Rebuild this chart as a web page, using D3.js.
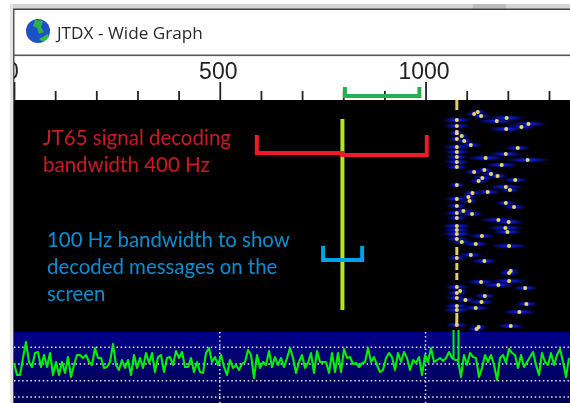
<!DOCTYPE html>
<html>
<head>
<meta charset="utf-8">
<title>JTDX - Wide Graph</title>
<script src="https://cdn.jsdelivr.net/npm/d3@7"></script>
<style>
  html, body { margin: 0; padding: 0; background: #fff; overflow: hidden; }
  svg { display: block; filter: blur(0.35px); }
</style>
</head>
<body>
<svg id="chart"></svg>
<script>
// [A] Datos ------------------------------------------------------------------
const titleText = "JTDX - Wide Graph";
const axisLabels = [0, 500, 1000];
const tickHz = d3.range(0, 1400, 100);
const gridHz = [500, 1000];
const gridLevels = [55.7, 39, 22.3, 6];

// Senales decodificadas: frecuencia (Hz), fila del waterfall, ancho del halo (Hz)
const spotHz = [1118,1127,1135,1076,1173,1197,1076,1250,1233,1196,1076,1076,1088,1094,1110,1076,1224,1076,1195,1076,1146,1248,1076,1185,1076,1118,1143,1159,1175,1138,1129,1218,1076,1195,1205,1151,1114,1104,1107,1076,1195,1215,1076,1076,1092,1113,1076,1177,1202,1076,1194,1076,1199,1076,1137,1076,1088,1122,1203,1110,1076,1143,1207,1203,1203,1135,1177,1076,1242,1084,1076,1144,1076,1097,1136,1076,1122,1245,1076,1228,1207,1129,1124,1076];
const spotRow = [14,12,16,20,21,18,26,24,27,29,33,39,36,41,45,47,48,52,54,57,58,60,62,65,67,72,70,74,76,78,81,80,85,87,90,92,93,97,101,99,103,107,106,113,111,114,118,120,122,126,128,130,132,134,136,139,142,144,146,155,158,161,171,173,181,182,185,187,188,191,193,196,198,200,202,206,208,204,210,212,226,227,229,225];
const spotSpread = [22,22,26,40,50,50,36,50,40,46,22,24,18,24,30,36,34,34,44,30,50,60,34,44,30,26,22,24,26,28,26,34,22,46,26,34,26,20,20,34,28,32,28,34,26,30,28,48,40,40,50,36,40,40,34,30,30,36,50,30,26,36,24,28,50,40,44,32,34,20,28,28,30,30,34,34,36,30,36,46,36,24,24,30];

// Portadora con tramos verticales (filas)
const carrierHz = 1076;
const carrierStart = [0, 30, 147, 163, 173, 213];
const carrierEnd = [10, 35, 155, 170, 180, 224];

// Espectro: un valor cada binHz desde 0 Hz
const binHz = 7.29;
const spectrumLevels = [40,28,28,45,61,41,36,50,51,36,48,36,50,28,41,28,41,30,46,26,38,48,48,45,48,41,38,55,45,45,35,36,41,59,38,33,43,35,43,28,48,35,45,35,50,40,50,31,46,48,31,45,46,38,52,45,51,36,36,
  45,31,41,31,30,50,55,41,46,38,48,36,28,43,35,38,33,39,41,53,48,25,48,35,41,38,52,36,46,38,45,36,45,55,45,30,41,48,35,40,50,30,52,41,41,41,30,50,31,50,31,54,45,46,39,40,36,40,41,55,41,46,38,31,
  33,45,50,46,33,50,41,51,45,33,43,40,46,28,48,41,55,41,43,45,42,45,51,45,43,43,26,48,38,50,46,45,26,35,48,41,48,38,23,45,48,40,54,50,48,35,48,36,41,46,51,38,28,50,41,38,50,38,48,54,41,26,45];
const toneHz = [1068, 1080];
const toneTop = 73;
const toneBase = 43;

// Anotaciones
const redBracketHz = [590, 1003];
const redBracketLeftRows = [35, 53];
const redBracketRightRows = [35, 55];
const blueBracketHz = [751, 846];
const blueBracketRows = [146, 160];
const greenBracketHz = [804, 985];
const limeHz = 798;
const limeRows = [19, 210];
const redLines = ["JT65 signal decoding", "bandwidth 400 Hz"];
const blueLines = ["100 Hz bandwidth to show", "decoded messages on the", "screen"];

// [B] Configuracion ----------------------------------------------------------
const width = 570;
const height = 403;

const x = d3.scaleLinear().domain([0, 1351]).range([14, 570]);
const yRow = d3.scaleLinear().domain([0, 232]).range([100, 332]);
const yLevel = d3.scaleLinear().domain([0, 71]).range([403, 332]);

const svg = d3.select("#chart").attr("width", width).attr("height", height);
const defs = svg.append("defs");

defs.append("clipPath").attr("id", "plotClip")
  .append("rect").attr("x", 14).attr("y", 56).attr("width", width - 14).attr("height", height - 56);

const halo = defs.append("radialGradient").attr("id", "halo");
halo.append("stop").attr("offset", "0%").attr("stop-color", "#0a28f0");
halo.append("stop").attr("offset", "35%").attr("stop-color", "#0816b0");
halo.append("stop").attr("offset", "70%").attr("stop-color", "#040a60").attr("stop-opacity", 0.8);
halo.append("stop").attr("offset", "100%").attr("stop-color", "#000020").attr("stop-opacity", 0);

const specFill = defs.append("linearGradient").attr("id", "specFill")
  .attr("x1", 0).attr("y1", 0).attr("x2", 0).attr("y2", 1);
specFill.append("stop").attr("offset", "0%").attr("stop-color", "#000088");
specFill.append("stop").attr("offset", "100%").attr("stop-color", "#000050");

defs.append("filter").attr("id", "soft")
  .append("feGaussianBlur").attr("stdDeviation", 0.5);

// [C] Marco de la ventana ----------------------------------------------------
svg.append("rect").attr("x", 10).attr("y", 4).attr("width", width - 10).attr("height", 5).attr("fill", "#d4d4d4");
svg.append("rect").attr("x", 10).attr("y", 4).attr("width", 3).attr("height", height - 4).attr("fill", "#e4e4e4");
svg.append("rect").attr("x", 473).attr("y", 4).attr("width", 33).attr("height", 5).attr("fill", "#bcbcbc");
svg.append("rect").attr("x", 13).attr("y", 8.5).attr("width", width - 13).attr("height", 1.5).attr("fill", "#444");
svg.append("rect").attr("x", 13).attr("y", 9).attr("width", 1.5).attr("height", height - 9).attr("fill", "#555");
svg.append("rect").attr("x", 14).attr("y", 54.5).attr("width", width - 14).attr("height", 1.6).attr("fill", "#555");

// Icono
const icon = svg.append("g").attr("transform", "translate(38,31)");
icon.append("circle").attr("r", 12).attr("fill", "#1e50c8");
icon.append("path").attr("d", "M-3,-11 L5,-10 L3,-4 L6,1 L1,3 L-1,-3 L-5,-5 Z").attr("fill", "#2fb04a");
icon.append("path").attr("d", "M1,8 L10,3 L11,6 L5,11 Z").attr("fill", "#30c040");

svg.append("text")
  .attr("x", 57).attr("y", 38.5)
  .attr("font-family", "'Open Sans'")
  .attr("font-size", 17.2)
  .attr("fill", "#2a2a2a")
  .text(titleText);

// [D] Regla de frecuencia ----------------------------------------------------
const axisG = svg.append("g")
  .attr("transform", "translate(0,100)")
  .attr("clip-path", "url(#axisClip)")
  .call(d3.axisTop(x)
    .tickValues(tickHz)
    .tickSize(9)
    .tickPadding(12)
    .tickFormat(d => axisLabels.includes(d) ? d : ""));

defs.append("clipPath").attr("id", "axisClip")
  .append("rect").attr("x", 14).attr("y", -45).attr("width", width - 14).attr("height", 45);

axisG.select(".domain").remove();
axisG.selectAll(".tick line")
  .attr("stroke", "#222")
  .attr("stroke-width", 1.8)
  .attr("y2", d => d % 500 === 0 ? -18 : -9);
axisG.selectAll(".tick text")
  .attr("font-family", "'Liberation Sans'")
  .attr("font-size", 23)
  .attr("fill", "#222")
  .attr("x", -2)
  .attr("y", -21);

// [E] Waterfall --------------------------------------------------------------
svg.append("rect").attr("x", 14).attr("y", yRow(0)).attr("width", width - 14).attr("height", yRow(232) - yRow(0)).attr("fill", "#000");

const spotIdx = d3.range(spotHz.length);
const waterfall = svg.append("g").attr("clip-path", "url(#plotClip)");

waterfall.selectAll("ellipse.halo")
  .data(spotIdx)
  .join("ellipse")
  .attr("class", "halo")
  .attr("cx", i => x(spotHz[i]))
  .attr("cy", i => yRow(spotRow[i]))
  .attr("rx", i => x(spotSpread[i]) - x(0))
  .attr("ry", 3.2)
  .attr("fill", "url(#halo)");

const hot = waterfall.append("g").attr("filter", "url(#soft)");

hot.selectAll("rect.carrier")
  .data(carrierStart)
  .join("rect")
  .attr("class", "carrier")
  .attr("x", x(carrierHz) - 1.5)
  .attr("width", 3)
  .attr("y", d => yRow(d))
  .attr("height", (d, i) => yRow(carrierEnd[i]) - yRow(d))
  .attr("fill", "#dccd6a");

hot.selectAll("circle.spot")
  .data(spotIdx)
  .join("circle")
  .attr("class", "spot")
  .attr("cx", i => x(spotHz[i]))
  .attr("cy", i => yRow(spotRow[i]))
  .attr("r", 2)
  .attr("fill", "#ecd95a");

// [F] Espectro ---------------------------------------------------------------
svg.append("rect").attr("x", 14).attr("y", yLevel(71)).attr("width", width - 14).attr("height", 71).attr("fill", "url(#specFill)");

const gridG = svg.append("g")
  .attr("stroke", "#e4e4f0")
  .attr("stroke-width", 1.5)
  .attr("stroke-dasharray", "1.5 2.6");

gridG.selectAll("line.h")
  .data(gridLevels)
  .join("line")
  .attr("class", "h")
  .attr("x1", 14).attr("x2", width)
  .attr("y1", d => yLevel(d)).attr("y2", d => yLevel(d));

gridG.selectAll("line.v")
  .data(gridHz)
  .join("line")
  .attr("class", "v")
  .attr("x1", d => x(d)).attr("x2", d => x(d))
  .attr("y1", yLevel(71)).attr("y2", height);

const spectrumLine = d3.line()
  .x((d, i) => x(i * binHz))
  .y(d => yLevel(d));

svg.append("path")
  .datum(spectrumLevels)
  .attr("d", spectrumLine)
  .attr("fill", "none")
  .attr("stroke", "#00f000")
  .attr("stroke-width", 2.1)
  .attr("stroke-linejoin", "round");

svg.selectAll("line.tone")
  .data(toneHz)
  .join("line")
  .attr("class", "tone")
  .attr("x1", d => x(d)).attr("x2", d => x(d))
  .attr("y1", yLevel(toneTop)).attr("y2", yLevel(toneBase))
  .attr("stroke", "#00f000")
  .attr("stroke-width", 2);

// [G] Anotaciones ------------------------------------------------------------
function bracket(points, color) {
  svg.append("path")
    .attr("d", d3.line()(points))
    .attr("fill", "none")
    .attr("stroke", color)
    .attr("stroke-width", 4);
}

svg.append("line")
  .attr("x1", x(limeHz)).attr("x2", x(limeHz))
  .attr("y1", yRow(limeRows[0])).attr("y2", yRow(limeRows[1]))
  .attr("stroke", "#b5e61d")
  .attr("stroke-width", 4);

bracket([
  [x(redBracketHz[0]), yRow(redBracketLeftRows[0])],
  [x(redBracketHz[0]), yRow(redBracketLeftRows[1])],
  [x(limeHz), yRow(redBracketLeftRows[1])],
  [x(limeHz), yRow(redBracketRightRows[1])],
  [x(redBracketHz[1]), yRow(redBracketRightRows[1])],
  [x(redBracketHz[1]), yRow(redBracketRightRows[0])]
], "#ed1c24");
bracket([
  [x(blueBracketHz[0]), yRow(blueBracketRows[0])],
  [x(blueBracketHz[0]), yRow(blueBracketRows[1])],
  [x(blueBracketHz[1]), yRow(blueBracketRows[1])],
  [x(blueBracketHz[1]), yRow(blueBracketRows[0])]
], "#00a2e8");
bracket([
  [x(greenBracketHz[0]), 87],
  [x(greenBracketHz[0]), 96],
  [x(greenBracketHz[1]), 96],
  [x(greenBracketHz[1]), 87]
], "#22b14c");

svg.selectAll("text.red")
  .data(redLines)
  .join("text")
  .attr("class", "red")
  .attr("x", 43)
  .attr("y", (d, i) => 145 + i * 27)
  .attr("font-family", "Lato")
  .attr("font-size", 20.5)
  .attr("fill", "#cc1c22")
  .text(d => d);

svg.selectAll("text.blue")
  .data(blueLines)
  .join("text")
  .attr("class", "blue")
  .attr("x", 47)
  .attr("y", (d, i) => 247 + i * 27)
  .attr("font-family", "Lato")
  .attr("font-size", 20.4)
  .attr("fill", "#0b8fd0")
  .text(d => d);
</script>
</body>
</html>
